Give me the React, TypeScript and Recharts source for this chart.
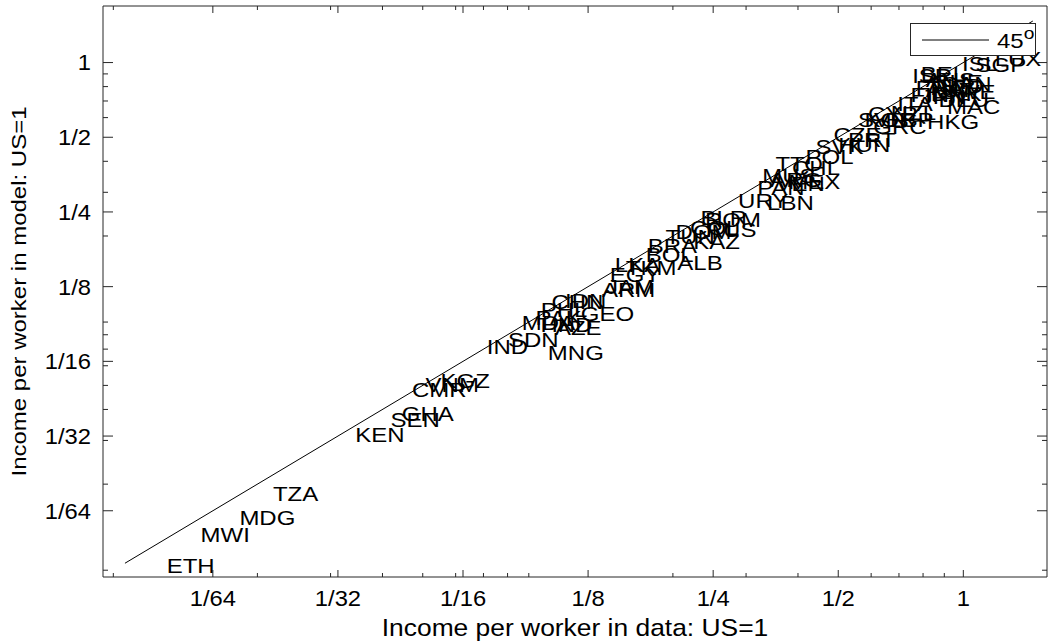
import React from 'react';
import { ScatterChart, Scatter, XAxis, YAxis } from 'recharts';

// income per worker, US = 1
const codes = [
  'ETH', 'MWI', 'MDG', 'TZA', 'KEN', 'SEN', 'GHA', 'CMR', 'VNM', 'KGZ',
  'IND', 'SDN', 'MNG', 'MDA', 'PAK', 'HND', 'AZE', 'GEO', 'PHL', 'CHN',
  'IDN', 'ARM', 'JAM', 'EGY', 'LKA', 'TKM', 'ALB', 'BOL', 'BRA', 'TUN',
  'KAZ', 'DOM', 'COL', 'RUS', 'BLR', 'ROM', 'URY', 'LBN', 'PAN', 'MEX',
  'ARG', 'MUS', 'VEN', 'TTO', 'CHL', 'POL', 'SVK', 'HUN', 'CZE', 'PRT',
  'KOR', 'GRC', 'SVN', 'CYP', 'ESP', 'NZL', 'HKG', 'MAC', 'ITA', 'ISR',
  'BEL', 'CHE', 'AUS', 'FRA', 'AUT', 'NLD', 'FIN', 'JPN', 'DNK', 'SWE',
  'DEU', 'CAN', 'ISL', 'SGP', 'LUX',
];
const dataIncome = [
  0.0121, 0.0146, 0.0181, 0.0218, 0.0344, 0.0418, 0.0445, 0.0471, 0.0508, 0.0552,
  0.0713, 0.0802, 0.100, 0.0866, 0.0934, 0.0960, 0.104, 0.120, 0.0961, 0.102,
  0.110, 0.135, 0.138, 0.141, 0.145, 0.154, 0.205, 0.172, 0.174, 0.192,
  0.224, 0.203, 0.220, 0.240, 0.233, 0.239, 0.287, 0.337, 0.319, 0.379,
  0.343, 0.328, 0.353, 0.353, 0.387, 0.417, 0.441, 0.500, 0.487, 0.528,
  0.578, 0.607, 0.558, 0.590, 0.650, 0.669, 0.818, 0.914, 0.693, 0.753,
  0.790, 0.841, 0.812, 0.768, 0.812, 0.857, 0.746, 0.790, 0.835, 0.883,
  0.871, 0.883, 0.993, 1.07, 1.19,
];
const modelIncome = [
  0.0094, 0.0125, 0.0147, 0.0183, 0.0317, 0.0364, 0.0385, 0.0480, 0.0504, 0.0522,
  0.0713, 0.0764, 0.0676, 0.0897, 0.0934, 0.0878, 0.0854, 0.0975, 0.101, 0.109,
  0.110, 0.121, 0.125, 0.139, 0.153, 0.149, 0.156, 0.168, 0.183, 0.198,
  0.189, 0.207, 0.216, 0.212, 0.236, 0.232, 0.277, 0.272, 0.312, 0.330,
  0.337, 0.349, 0.325, 0.390, 0.376, 0.417, 0.457, 0.466, 0.511, 0.489,
  0.590, 0.551, 0.586, 0.620, 0.586, 0.628, 0.578, 0.664, 0.683, 0.883,
  0.901, 0.835, 0.853, 0.790, 0.774, 0.806, 0.742, 0.727, 0.747, 0.763,
  0.707, 0.818, 0.986, 0.979, 1.04,
];

// 45 degree line ends
const lineEnds = [0.0096, 1.47];

const majorTicks = [1 / 64, 1 / 32, 1 / 16, 1 / 8, 1 / 4, 1 / 2, 1];
const majorLabels = ['1/64', '1/32', '1/16', '1/8', '1/4', '1/2', '1'];
const minorTicks = [0.009, 0.02, 0.03, 0.04, 0.05, 0.06, 0.07, 0.08, 0.09, 0.2, 0.3, 0.4, 0.6, 0.7, 0.8, 0.9];

const xDomain = [0.0085, 1.59];
const yDomain = [0.00845, 1.69];

const allTicks = [...minorTicks, ...majorTicks].sort((a, b) => a - b);
const FONT = '"Liberation Sans", Arial, Helvetica, sans-serif';
const AXIS = '#262626';

const points = codes.map((code, i) => ({ code, x: dataIncome[i], y: modelIncome[i] }));
const line45 = lineEnds.map((v) => ({ x: v, y: v }));

const majorIndex = (v: number) => majorTicks.findIndex((m) => Math.abs(m - v) < 1e-9);

const StretchText = ({ x, y, sx, size, anchor, children }: any) => (
  <g transform={`translate(${x},${y}) scale(${sx},1)`}>
    <text x={0} y={0} dy="0.36em" fontSize={size} fontFamily={FONT} fill="#000" textAnchor={anchor}>
      {children}
    </text>
  </g>
);

const BottomTick = ({ x, y, payload }: any) => {
  const i = majorIndex(payload.value);
  return (
    <g>
      <line x1={x} x2={x} y1={y} y2={y - (i >= 0 ? 7 : 4)} stroke={AXIS} />
      {i >= 0 && (
        <StretchText x={x} y={y + 21} sx={1.08} size={22} anchor="middle">
          {majorLabels[i]}
        </StretchText>
      )}
    </g>
  );
};

const TopTick = ({ x, y, payload }: any) => {
  const i = majorIndex(payload.value);
  return <line x1={x} x2={x} y1={y} y2={y + (i >= 0 ? 7 : 4)} stroke={AXIS} />;
};

const LeftTick = ({ x, y, payload }: any) => {
  const i = majorIndex(payload.value);
  return (
    <g>
      <line x1={x} x2={x + (i >= 0 ? 10 : 5)} y1={y} y2={y} stroke={AXIS} />
      {i >= 0 && (
        <StretchText x={x - 12} y={y} sx={1.08} size={22} anchor="end">
          {majorLabels[i]}
        </StretchText>
      )}
    </g>
  );
};

const RightTick = ({ x, y, payload }: any) => {
  const i = majorIndex(payload.value);
  return <line x1={x} x2={x - (i >= 0 ? 10 : 5)} y1={y} y2={y} stroke={AXIS} />;
};

const CodeLabel = ({ cx, cy, payload }: any) => (
  <StretchText x={cx} y={cy} sx={1.2} size={20} anchor="start">
    {payload.code}
  </StretchText>
);

const XTitle = ({ viewBox }: any) => (
  <StretchText x={viewBox.x + viewBox.width / 2} y={viewBox.y + 50} sx={1.1} size={24} anchor="middle">
    Income per worker in data: US=1
  </StretchText>
);

const YTitle = ({ viewBox }: any) => (
  <g transform={`translate(${viewBox.x + 19},${viewBox.y + viewBox.height / 2}) scale(0.85,1) rotate(-90)`}>
    <text x={0} y={0} dy="0.36em" fontSize={24} fontFamily={FONT} fill="#000" textAnchor="middle">
      Income per worker in model: US=1
    </text>
  </g>
);

export default function App() {
  return (
    <div style={{ position: 'absolute', left: 0, top: 0, width: 1052, height: 643, background: '#fff' }}>
      <ScatterChart width={1052} height={643} margin={{ top: 5, right: 4, bottom: 0, left: 0 }}>
        <XAxis
          xAxisId="b"
          dataKey="x"
          type="number"
          scale="log"
          domain={xDomain}
          allowDataOverflow
          ticks={allTicks}
          interval={0}
          tick={<BottomTick />}
          tickLine={false}
          tickSize={0}
          tickMargin={0}
          height={66}
          axisLine={{ stroke: AXIS }}
          label={<XTitle />}
        />
        <XAxis
          xAxisId="t"
          orientation="top"
          dataKey="x"
          type="number"
          scale="log"
          domain={xDomain}
          allowDataOverflow
          ticks={allTicks}
          interval={0}
          tick={<TopTick />}
          tickLine={false}
          tickSize={0}
          tickMargin={0}
          height={1}
          axisLine={{ stroke: AXIS }}
        />
        <YAxis
          yAxisId="l"
          dataKey="y"
          type="number"
          scale="log"
          domain={yDomain}
          allowDataOverflow
          ticks={allTicks}
          interval={0}
          tick={<LeftTick />}
          tickLine={false}
          tickSize={0}
          tickMargin={0}
          width={103}
          axisLine={{ stroke: AXIS }}
          label={<YTitle />}
        />
        <YAxis
          yAxisId="r"
          orientation="right"
          dataKey="y"
          type="number"
          scale="log"
          domain={yDomain}
          allowDataOverflow
          ticks={allTicks}
          interval={0}
          tick={<RightTick />}
          tickLine={false}
          tickSize={0}
          tickMargin={0}
          width={1}
          axisLine={{ stroke: AXIS }}
        />
        <Scatter
          xAxisId="t"
          yAxisId="r"
          data={line45}
          line={{ stroke: '#000', strokeWidth: 1 }}
          shape={() => <g />}
          isAnimationActive={false}
        />
        <Scatter xAxisId="b" yAxisId="l" data={points} shape={<CodeLabel />} isAnimationActive={false} />
      </ScatterChart>
      <div
        style={{
          position: 'absolute',
          left: 910,
          top: 23,
          width: 124,
          height: 31,
          background: '#fff',
          border: `1px solid ${AXIS}`,
        }}
      >
        <svg width={124} height={31} style={{ display: 'block' }}>
          <line x1={11} x2={78} y1={16} y2={16} stroke="#000" />
          <g transform="translate(86,17) scale(1.2,1)">
            <text x={0} y={0} dy="0.36em" fontSize={20} fontFamily={FONT} fill="#000">
              45
              <tspan dy={-9} fontSize={16}>o</tspan>
            </text>
          </g>
        </svg>
      </div>
    </div>
  );
}
